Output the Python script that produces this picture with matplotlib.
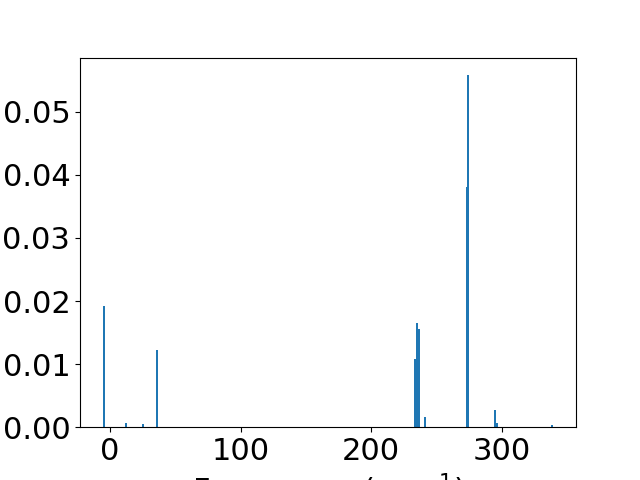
import matplotlib
matplotlib.use("Agg")
import matplotlib.pyplot as plt

# frequencies (cm^-1) and intensities
freqs = [-5.0, 12.5, 25.6, 36.1, 233.9, 235.3, 236.6, 241.6, 273.3, 274.4, 295.2, 296.2, 339.0]
intens = [0.0192, 0.00063, 0.0005, 0.0122, 0.0108, 0.0165, 0.0156, 0.00159,
          0.0381, 0.0558, 0.0027, 0.0006, 0.0004]

plt.rcParams['font.size'] = 22

fig, ax = plt.subplots(figsize=(6.4, 4.8), dpi=100)
ax.bar(freqs, intens, width=1.5)
ax.set_xlabel("Frequency (cm$^{-1}$)")

fig.savefig("out.png")
